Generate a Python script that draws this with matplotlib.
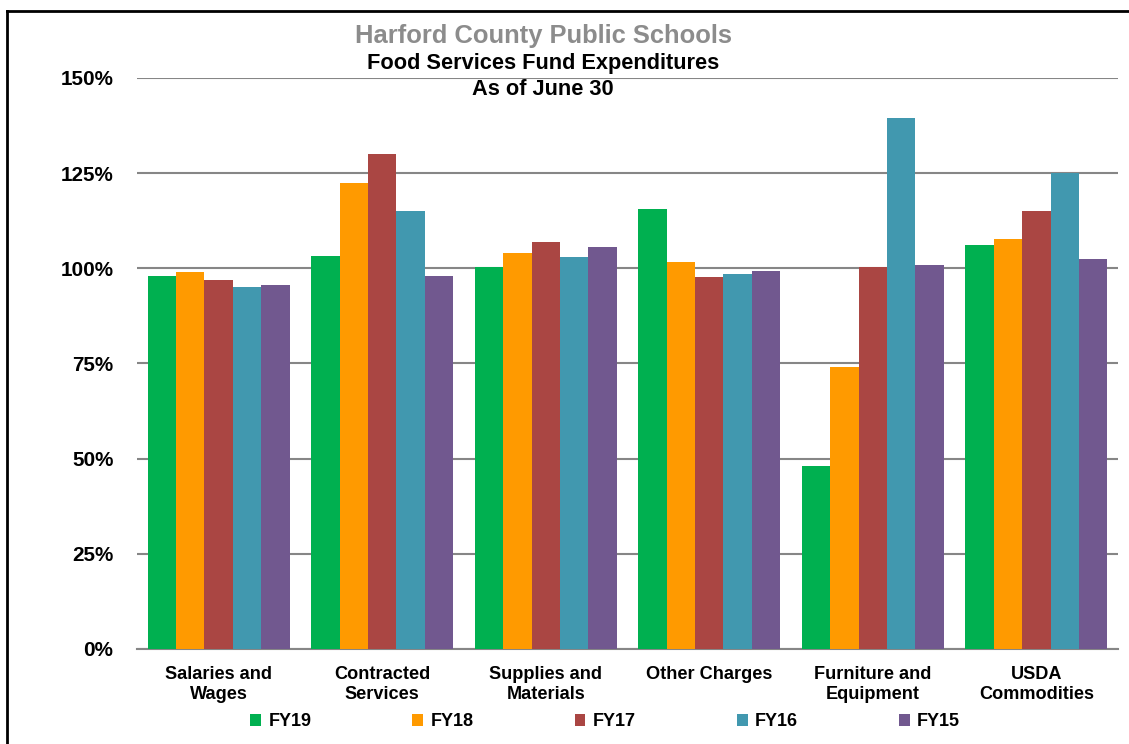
import matplotlib.pyplot as plt
import matplotlib.lines as mlines
import numpy as np

categories = ['Salaries and\nWages', 'Contracted\nServices', 'Supplies and\nMaterials',
              'Other Charges', 'Furniture and\nEquipment', 'USDA\nCommodities']
series = ['FY19', 'FY18', 'FY17', 'FY16', 'FY15']
fy19 = [98.0, 103.2, 100.3, 115.6, 48.0, 106.0]
fy18 = [99.0, 122.4, 104.0, 101.7, 74.0, 107.7]
fy17 = [97.0, 130.0, 107.0, 97.7, 100.3, 115.0]
fy16 = [95.2, 115.0, 103.0, 98.5, 139.5, 125.0]
fy15 = [95.6, 98.0, 105.6, 99.3, 101.0, 102.4]
colors = ['#00B050', '#FF9A00', '#AA4643', '#4198AF', '#71588F']

plt.rcParams['font.family'] = ['Liberation Sans', 'DejaVu Sans']
plt.rcParams['font.weight'] = 'bold'

fig = plt.figure(figsize=(11.29, 7.44), dpi=100)
ax = fig.add_axes([0.1213, 0.1277, 0.8690, 0.7675])

x = np.arange(len(categories))
w = 0.174
for i, vals in enumerate([fy19, fy18, fy17, fy16, fy15]):
    ax.bar(x + (i - 2) * w, vals, w, color=colors[i], label=series[i], zorder=3)

ax.set_xlim(-0.5, len(categories) - 0.5)
ax.set_ylim(0, 150)
ax.set_yticks(np.arange(0, 151, 25))
ax.set_yticklabels([f'{v}%' for v in range(0, 151, 25)], fontsize=14.9, fontweight='bold')
ax.set_xticks(x)
ax.set_xticklabels(categories, fontsize=13.1, fontweight='bold', linespacing=1.25)
ax.tick_params(axis='both', length=0)
ax.tick_params(axis='y', pad=17)
ax.tick_params(axis='x', pad=12)
ax.grid(axis='y', color='#868686', linewidth=1.5, zorder=0)
for s in ['top', 'right', 'left']:
    ax.spines[s].set_visible(False)
ax.spines['bottom'].set_color('#868686')
ax.spines['bottom'].set_linewidth(1.5)

fig.text(0.481, 0.951, 'Harford County Public Schools', ha='center', va='center',
         fontsize=18.4, fontweight='bold', color='#8C8C8C')
fig.text(0.481, 0.915, 'Food Services Fund Expenditures', ha='center', va='center',
         fontsize=15.7, fontweight='bold')
fig.text(0.481, 0.880, 'As of June 30', ha='center', va='center',
         fontsize=15.7, fontweight='bold')

fig.legend(loc='center', bbox_to_anchor=(0.536, 0.030), ncol=5, frameon=False,
           fontsize=13, handlelength=0.6, handleheight=0.6, handletextpad=0.4,
           columnspacing=5.6)

# outer frame (left and top edges)
fig.add_artist(mlines.Line2D([0.0066, 0.0066], [0, 0.985], color='black', lw=2,
                             transform=fig.transFigure))
fig.add_artist(mlines.Line2D([0.0066, 1], [0.985, 0.985], color='black', lw=2,
                             transform=fig.transFigure))

fig.savefig('out.png', dpi=100)
